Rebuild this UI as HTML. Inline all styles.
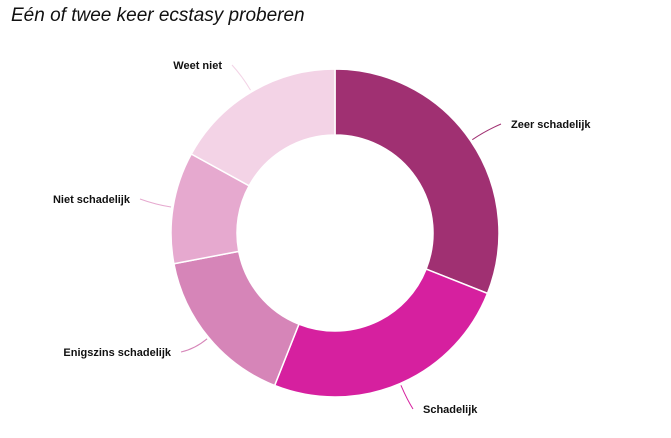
<!DOCTYPE html>
<html><head><meta charset="utf-8"><style>
body{margin:0;background:#fff;width:671px;height:438px;overflow:hidden;font-family:"Liberation Sans",sans-serif}
.t{position:absolute;left:11px;top:5px;font-size:19px;font-style:italic;color:#111}
</style></head><body>
<div class="t">Eén of twee keer ecstasy proberen</div>
<svg id="c" width="671" height="438" style="position:absolute;left:0;top:0"></svg>
<script>
const categories=["Zeer schadelijk","Schadelijk","Enigszins schadelijk","Niet schadelijk","Weet niet"];
const values=[31,25,16,11,17];
const colors=["#a03072","#d6209f","#d685b8","#e6a9cf","#f3d3e6"];
const labelPos=[[511,128,"start"],[423,413,"start"],[171,356,"end"],[130,203,"end"],[222,69,"end"]];
const svg=document.getElementById('c');const NS="http://www.w3.org/2000/svg";
const cx=335,cy=233,R=164,r=98;
const total=values.reduce((a,b)=>a+b,0);
function pt(a,rad){return [cx+rad*Math.sin(a),cy-rad*Math.cos(a)];}
let acc=0;
values.forEach((v,i)=>{
 const a0=acc/total*2*Math.PI;acc+=v;const a1=acc/total*2*Math.PI;
 const lg=(a1-a0)>Math.PI?1:0;
 const [x0,y0]=pt(a0,R),[x1,y1]=pt(a1,R),[x2,y2]=pt(a1,r),[x3,y3]=pt(a0,r);
 const p=document.createElementNS(NS,'path');
 p.setAttribute('d',`M${x0},${y0}A${R},${R} 0 ${lg} 1 ${x1},${y1}L${x2},${y2}A${r},${r} 0 ${lg} 0 ${x3},${y3}Z`);
 p.setAttribute('fill',colors[i]);p.setAttribute('stroke','#fff');p.setAttribute('stroke-width','1.5');
 
 
 svg.appendChild(p);
 const am=(a0+a1)/2;const [lx,ly]=pt(am,R+2);const [ex,ey]=pt(am,R+18);
 const [tx,ty,anc]=labelPos[i];
 const ax=anc==="start"?tx-10:tx+10;
 const l=document.createElementNS(NS,'path');
 l.setAttribute('d',`M${lx},${ly}Q${ex},${ey} ${ax},${ty-4}`);
 l.setAttribute('fill','none');l.setAttribute('stroke',colors[i]);l.setAttribute('stroke-width','1');
 
 
 svg.appendChild(l);
 const t=document.createElementNS(NS,'text');
 t.setAttribute('x',tx);t.setAttribute('y',ty);t.setAttribute('text-anchor',anc);
 t.setAttribute('font-size','11');t.setAttribute('font-weight','bold');t.setAttribute('fill','#111');
 t.textContent=categories[i];
 
 
 svg.appendChild(t);
});
</script>
</body></html>
